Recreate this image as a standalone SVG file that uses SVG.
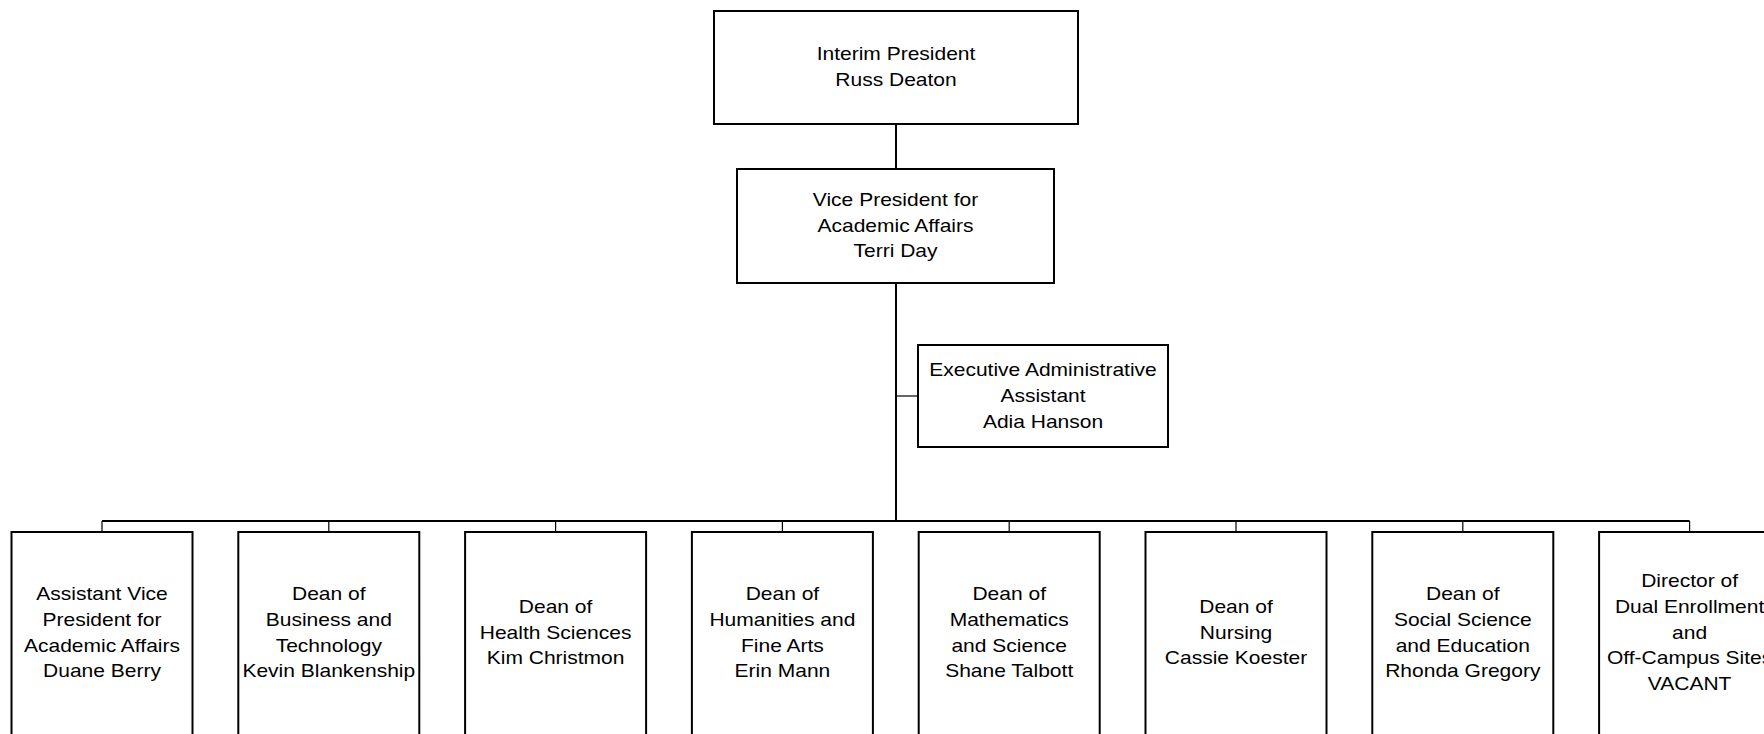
<svg xmlns="http://www.w3.org/2000/svg" width="1764" height="734" viewBox="0 0 1764 734">
<style>
.box{fill:#fff;stroke:#000;stroke-width:2}
.lbl{font-family:"Liberation Sans",Arial,sans-serif;font-size:18.6px;fill:#000;text-anchor:middle}
.thick{stroke:#000;stroke-width:2;fill:none}
.thin{stroke:#000;stroke-width:1.2;fill:none}
</style>
<rect width="1764" height="734" fill="#fff"/>
<g id="connectors">
<line class="thick" x1="896" y1="124" x2="896" y2="169"/>
<line class="thick" x1="896" y1="283" x2="896" y2="521"/>
<line class="thin" x1="896" y1="396" x2="918" y2="396"/>
<line class="thick" x1="102" y1="521" x2="1689.6" y2="521"/>
<line class="thin" x1="102" y1="521" x2="102" y2="532"/>
<line class="thin" x1="328.8" y1="521" x2="328.8" y2="532"/>
<line class="thin" x1="555.6" y1="521" x2="555.6" y2="532"/>
<line class="thin" x1="782.4" y1="521" x2="782.4" y2="532"/>
<line class="thin" x1="1009.2" y1="521" x2="1009.2" y2="532"/>
<line class="thin" x1="1236" y1="521" x2="1236" y2="532"/>
<line class="thin" x1="1462.8" y1="521" x2="1462.8" y2="532"/>
<line class="thin" x1="1689.6" y1="521" x2="1689.6" y2="532"/>
</g>
<g id="president">
<rect class="box" x="714" y="11" width="364" height="113"/>
<text class="lbl" transform="translate(896,66.5) scale(1.13,1)"><tspan x="0" y="-6.2">Interim President</tspan><tspan x="0" y="19.6">Russ Deaton</tspan></text>
</g>
<g id="vp">
<rect class="box" x="737" y="169" width="317" height="114"/>
<text class="lbl" transform="translate(895.5,225) scale(1.13,1)"><tspan x="0" y="-19.1">Vice President for</tspan><tspan x="0" y="6.7">Academic Affairs</tspan><tspan x="0" y="32.5">Terri Day</tspan></text>
</g>
<g id="exec-assistant">
<rect class="box" x="918" y="345" width="250" height="102"/>
<text class="lbl" transform="translate(1043,395.5) scale(1.13,1)"><tspan x="0" y="-19.1">Executive Administrative</tspan><tspan x="0" y="6.7">Assistant</tspan><tspan x="0" y="32.5">Adia Hanson</tspan></text>
</g>
<g id="avp">
<rect class="box" x="11.5" y="532" width="181" height="214"/>
<text class="lbl" transform="translate(102,632) scale(1.13,1)"><tspan x="0" y="-32">Assistant Vice</tspan><tspan x="0" y="-6.2">President for</tspan><tspan x="0" y="19.6">Academic Affairs</tspan><tspan x="0" y="45.4">Duane Berry</tspan></text>
</g>
<g id="dean-business">
<rect class="box" x="238.3" y="532" width="181" height="214"/>
<text class="lbl" transform="translate(328.8,632) scale(1.13,1)"><tspan x="0" y="-32">Dean of</tspan><tspan x="0" y="-6.2">Business and</tspan><tspan x="0" y="19.6">Technology</tspan><tspan x="0" y="45.4">Kevin Blankenship</tspan></text>
</g>
<g id="dean-health">
<rect class="box" x="465.1" y="532" width="181" height="214"/>
<text class="lbl" transform="translate(555.6,632) scale(1.13,1)"><tspan x="0" y="-19.1">Dean of</tspan><tspan x="0" y="6.7">Health Sciences</tspan><tspan x="0" y="32.5">Kim Christmon</tspan></text>
</g>
<g id="dean-humanities">
<rect class="box" x="691.9" y="532" width="181" height="214"/>
<text class="lbl" transform="translate(782.4,632) scale(1.13,1)"><tspan x="0" y="-32">Dean of</tspan><tspan x="0" y="-6.2">Humanities and</tspan><tspan x="0" y="19.6">Fine Arts</tspan><tspan x="0" y="45.4">Erin Mann</tspan></text>
</g>
<g id="dean-math">
<rect class="box" x="918.7" y="532" width="181" height="214"/>
<text class="lbl" transform="translate(1009.2,632) scale(1.13,1)"><tspan x="0" y="-32">Dean of</tspan><tspan x="0" y="-6.2">Mathematics</tspan><tspan x="0" y="19.6">and Science</tspan><tspan x="0" y="45.4">Shane Talbott</tspan></text>
</g>
<g id="dean-nursing">
<rect class="box" x="1145.5" y="532" width="181" height="214"/>
<text class="lbl" transform="translate(1236,632) scale(1.13,1)"><tspan x="0" y="-19.1">Dean of</tspan><tspan x="0" y="6.7">Nursing</tspan><tspan x="0" y="32.5">Cassie Koester</tspan></text>
</g>
<g id="dean-social">
<rect class="box" x="1372.3" y="532" width="181" height="214"/>
<text class="lbl" transform="translate(1462.8,632) scale(1.13,1)"><tspan x="0" y="-32">Dean of</tspan><tspan x="0" y="-6.2">Social Science</tspan><tspan x="0" y="19.6">and Education</tspan><tspan x="0" y="45.4">Rhonda Gregory</tspan></text>
</g>
<g id="director-dual">
<rect class="box" x="1599.1" y="532" width="181" height="214"/>
<text class="lbl" transform="translate(1689.6,632) scale(1.13,1)"><tspan x="0" y="-45">Director of</tspan><tspan x="0" y="-19.1">Dual Enrollment</tspan><tspan x="0" y="6.7">and</tspan><tspan x="0" y="32.5">Off-Campus Sites</tspan><tspan x="0" y="58.3">VACANT</tspan></text>
</g>
</svg>
